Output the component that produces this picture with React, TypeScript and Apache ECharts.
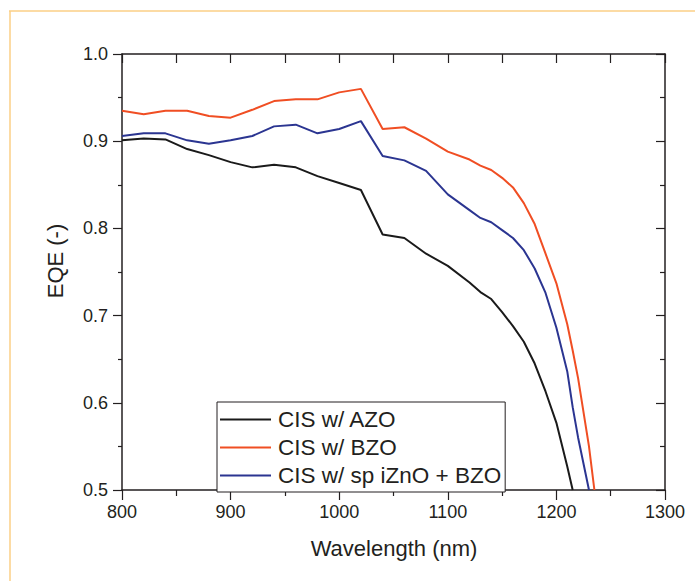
import React, { useEffect, useRef } from "react";
import * as echarts from "echarts";

const wavelengths = [
  800, 820, 840, 860, 880, 900, 920, 940, 960, 980, 1000, 1020, 1040, 1060, 1080,
  1100, 1120, 1130, 1140, 1150, 1160, 1170, 1180, 1190, 1200, 1210, 1215, 1220,
  1230, 1235,
];

const azo = [
  0.901, 0.903, 0.902, 0.891, 0.884, 0.876, 0.87, 0.873, 0.87, 0.86, 0.852, 0.844,
  0.793, 0.789, 0.771, 0.757, 0.738, 0.727, 0.719, 0.704, 0.688, 0.67, 0.645,
  0.613, 0.577, 0.527, 0.5, null, null, null,
];

const bzo = [
  0.935, 0.931, 0.935, 0.935, 0.929, 0.927, 0.936, 0.946, 0.948, 0.948, 0.956,
  0.96, 0.914, 0.916, 0.903, 0.888, 0.879, 0.872, 0.867, 0.858, 0.847, 0.829,
  0.805, 0.771, 0.737, 0.69, 0.66, 0.628, 0.55, 0.5,
];

const spIZnO = [
  0.906, 0.909, 0.909, 0.901, 0.897, 0.901, 0.906, 0.917, 0.919, 0.909, 0.914,
  0.923, 0.883, 0.878, 0.866, 0.839, 0.821, 0.812, 0.807, 0.798, 0.789, 0.775,
  0.754, 0.726, 0.686, 0.636, 0.595, 0.56, 0.5, null,
];

const seriesNames = ["CIS w/ AZO", "CIS w/ BZO", "CIS w/ sp iZnO + BZO"];
const seriesColors = ["#1a1a1a", "#f04e23", "#2b3591"];

const FONT = "'Liberation Sans', Arial, sans-serif";
const INK = "#231f20";

export default function App() {
  const ref = useRef<HTMLDivElement>(null);

  useEffect(() => {
    if (!ref.current) return;
    const chart = echarts.init(ref.current, undefined, { renderer: "svg" });
    const values = [azo, bzo, spIZnO];
    const axisLine = { show: true, onZero: false, lineStyle: { color: INK, width: 1.5 } };
    chart.setOption({
      animation: false,
      backgroundColor: "#ffffff",
      grid: { left: 122, right: 30, top: 54, bottom: 91 },
      legend: {
        orient: "vertical",
        left: 217,
        top: 402,
        padding: [6, 4, 5, 3],
        itemGap: 5,
        itemWidth: 51,
        itemHeight: 2,
        icon: "path://M0,0H51V2H0Z",
        backgroundColor: "#ffffff",
        borderColor: INK,
        borderWidth: 1,
        borderRadius: 0,
        data: seriesNames,
        textStyle: { fontFamily: FONT, fontSize: 22.5, color: INK, padding: [0, 0, 0, 2] },
      },
      xAxis: [
        {
          type: "value",
          position: "bottom",
          min: 800,
          max: 1300,
          interval: 100,
          axisLine,
          axisTick: { show: true, inside: false, length: 10, lineStyle: { color: INK, width: 1.2 } },
          minorTick: { show: true, splitNumber: 2, length: 6, lineStyle: { color: INK, width: 1.2 } },
          splitLine: { show: false },
          minorSplitLine: { show: false },
          axisLabel: {
            fontFamily: FONT,
            fontSize: 18,
            color: INK,
            margin: 13,
            formatter: (v: number) => String(v),
          },
        },
        {
          type: "value",
          position: "top",
          min: 800,
          max: 1300,
          interval: 50,
          axisLine,
          axisTick: { show: true, inside: true, length: 9, lineStyle: { color: INK, width: 1.2 } },
          axisLabel: { show: false },
          splitLine: { show: false },
        },
      ],
      yAxis: [
        {
          type: "value",
          position: "left",
          min: 0.5,
          max: 1.0,
          interval: 0.1,
          axisLine,
          axisTick: { show: true, inside: false, length: 9, lineStyle: { color: INK, width: 1.2 } },
          minorTick: { show: true, splitNumber: 2, length: 4, lineStyle: { color: INK, width: 1.2 } },
          splitLine: { show: false },
          minorSplitLine: { show: false },
          axisLabel: {
            fontFamily: FONT,
            fontSize: 18,
            color: INK,
            margin: 14,
            formatter: (v: number) => v.toFixed(1),
          },
        },
        {
          type: "value",
          position: "right",
          min: 0.5,
          max: 1.0,
          interval: 0.1,
          axisLine,
          axisTick: { show: true, inside: true, length: 9, lineStyle: { color: INK, width: 1.2 } },
          minorTick: { show: true, splitNumber: 2, length: 5, lineStyle: { color: INK, width: 1.2 } },
          axisLabel: { show: false },
          splitLine: { show: false },
          minorSplitLine: { show: false },
        },
      ],
      series: seriesNames.map((name, k) => ({
        name,
        type: "line",
        xAxisIndex: 0,
        yAxisIndex: 0,
        symbol: "none",
        showSymbol: false,
        clip: true,
        color: seriesColors[k],
        lineStyle: { color: seriesColors[k], width: 2 },
        data: wavelengths.map((w, i) => [w, values[k][i]]),
      })),
      graphic: [
        {
          type: "line",
          shape: { x1: 9, y1: 11, x2: 695, y2: 11 },
          style: { stroke: "#fbcf86", lineWidth: 1.5 },
        },
        {
          type: "line",
          shape: { x1: 10, y1: 11, x2: 10, y2: 581 },
          style: { stroke: "#fbcf86", lineWidth: 1.5 },
        },
        {
          type: "text",
          x: 55,
          y: 261,
          rotation: Math.PI / 2,
          style: {
            text: "EQE (-)",
            fontFamily: FONT,
            fontSize: 22,
            fill: INK,
            align: "center",
            verticalAlign: "middle",
          },
        },
        {
          type: "text",
          x: 394,
          y: 548,
          style: {
            text: "Wavelength (nm)",
            fontFamily: FONT,
            fontSize: 22,
            fill: INK,
            align: "center",
            verticalAlign: "middle",
          },
        },
      ],
    });
    return () => chart.dispose();
  }, []);

  return (
    <div
      ref={ref}
      style={{ position: "fixed", left: 0, top: 0, width: 695, height: 581 }}
    />
  );
}
